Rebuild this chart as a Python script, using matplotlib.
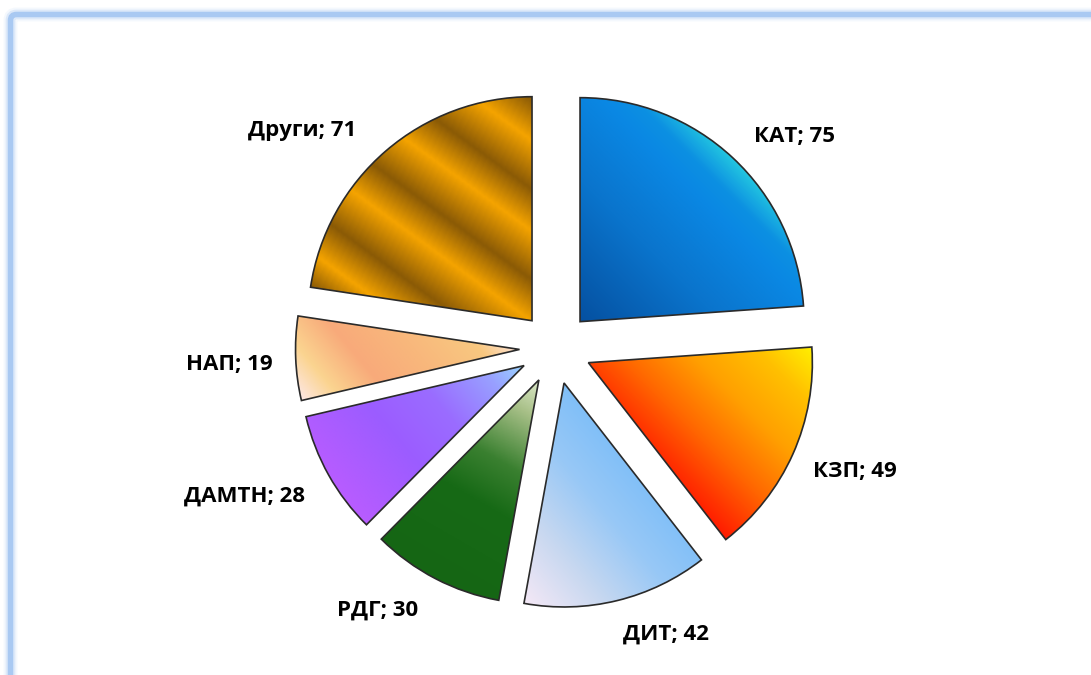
import numpy as np
import matplotlib
matplotlib.use("Agg")
import matplotlib.pyplot as plt
from matplotlib.colors import LinearSegmentedColormap
from matplotlib.patches import FancyBboxPatch

plt.rcParams['font.family'] = ['Open Sans', 'DejaVu Sans']

labels = ["КАТ", "КЗП", "ДИТ", "РДГ", "ДАМТН", "НАП", "Други"]
values = [75, 49, 42, 30, 28, 19, 71]

# gradient stops per slice: (direction in degrees, [(pos, colour), ...])
grads = [
    (45, [(0, "#0550a0"), (0.45, "#0a74cc"), (0.78, "#0a88e4"), (0.88, "#0c90e2"), (1, "#22c4e0")]),
    (45, [(0, "#ff1a00"), (0.3, "#ff6a00"), (0.55, "#ffa000"), (0.8, "#ffc000"), (1, "#ffee00")]),
    (40, [(0, "#f4e8f6"), (0.35, "#c8d8f0"), (0.7, "#98c8f6"), (1, "#80bff8")]),
    (60, [(0, "#156614"), (0.4, "#176a16"), (0.6, "#3a8030"), (0.85, "#a8c088"), (1, "#dce8c8")]),
    (40, [(0, "#b85cff"), (0.35, "#9c5cff"), (0.6, "#9a6cff"), (0.85, "#98a0ff"), (1, "#9ad4ff")]),
    (40, [(0, "#fde6e0"), (0.15, "#fbd490"), (0.35, "#f8aa7a"), (0.6, "#f8b87c"),
          (0.85, "#f9c880"), (1, "#fde4d8")]),
    (54, [(0, "#8a5a06"), (0.1, "#f5a400"), (0.22, "#8a5a06"), (0.36, "#f5a400"),
          (0.48, "#8a5a06"), (0.62, "#f5a400"), (0.74, "#8a5a06"), (0.88, "#f5a400"),
          (1, "#8a5a06")]),
]

# label anchor (x, baseline y) in image pixels
label_pos = [(794, 142), (855, 477), (666, 640), (378, 616),
             (244, 502), (229, 370), (302, 136)]

W, H = 1091, 675
fig = plt.figure(figsize=(W / 100, H / 100), dpi=100)
ax = fig.add_axes([0, 0, 1, 1])

cx, cy, R = 555.5, H - 348, 224
wedges, _ = ax.pie(values, startangle=90, counterclock=False,
                   center=(cx, cy), radius=R, explode=[36] * len(values),
                   wedgeprops=dict(facecolor="none", edgecolor="#2a2a2a",
                                   linewidth=1.2, zorder=3))
ax.set_xlim(0, W)
ax.set_ylim(0, H)
ax.set_aspect("equal")
ax.axis("off")

for w, (ang, stops) in zip(wedges, grads):
    x0, y0 = w.center
    n = 300
    xs = np.linspace(x0 - R, x0 + R, n)
    ys = np.linspace(y0 - R, y0 + R, n)
    X, Y = np.meshgrid(xs, ys)
    d = np.array([np.cos(np.radians(ang)), np.sin(np.radians(ang))])
    # project onto gradient direction, normalised over the wedge's own extent
    t1, t2 = np.radians(w.theta1), np.radians(w.theta2)
    th = np.linspace(t1, t2, 50)
    px = np.concatenate([[x0], x0 + R * np.cos(th)])
    py = np.concatenate([[y0], y0 + R * np.sin(th)])
    pp = px * d[0] + py * d[1]
    P = (X * d[0] + Y * d[1] - pp.min()) / (pp.max() - pp.min())
    cmap = LinearSegmentedColormap.from_list("g", stops)
    im = ax.imshow(np.clip(P, 0, 1), cmap=cmap, origin="lower",
                   extent=(x0 - R, x0 + R, y0 - R, y0 + R),
                   interpolation="bilinear", zorder=2, vmin=0, vmax=1)
    im.set_clip_path(w)

for lab, v, (lx, ly) in zip(labels, values, label_pos):
    ax.text(lx, H - ly, f"{lab}; {v}", ha="center", va="baseline",
            fontsize=16, fontweight="bold", color="black", zorder=4)

# chart area frame with soft glow
for lw, a in [(10, 0.12), (7, 0.3), (4, 1.0)]:
    fr = FancyBboxPatch((10.5, -60), 1200, H - 14.5 + 60,
                        boxstyle="round,pad=0,rounding_size=6",
                        facecolor="none", edgecolor="#a9c9f2",
                        linewidth=lw, alpha=a, zorder=1)
    ax.add_patch(fr)

fig.savefig("out.png", dpi=100)
